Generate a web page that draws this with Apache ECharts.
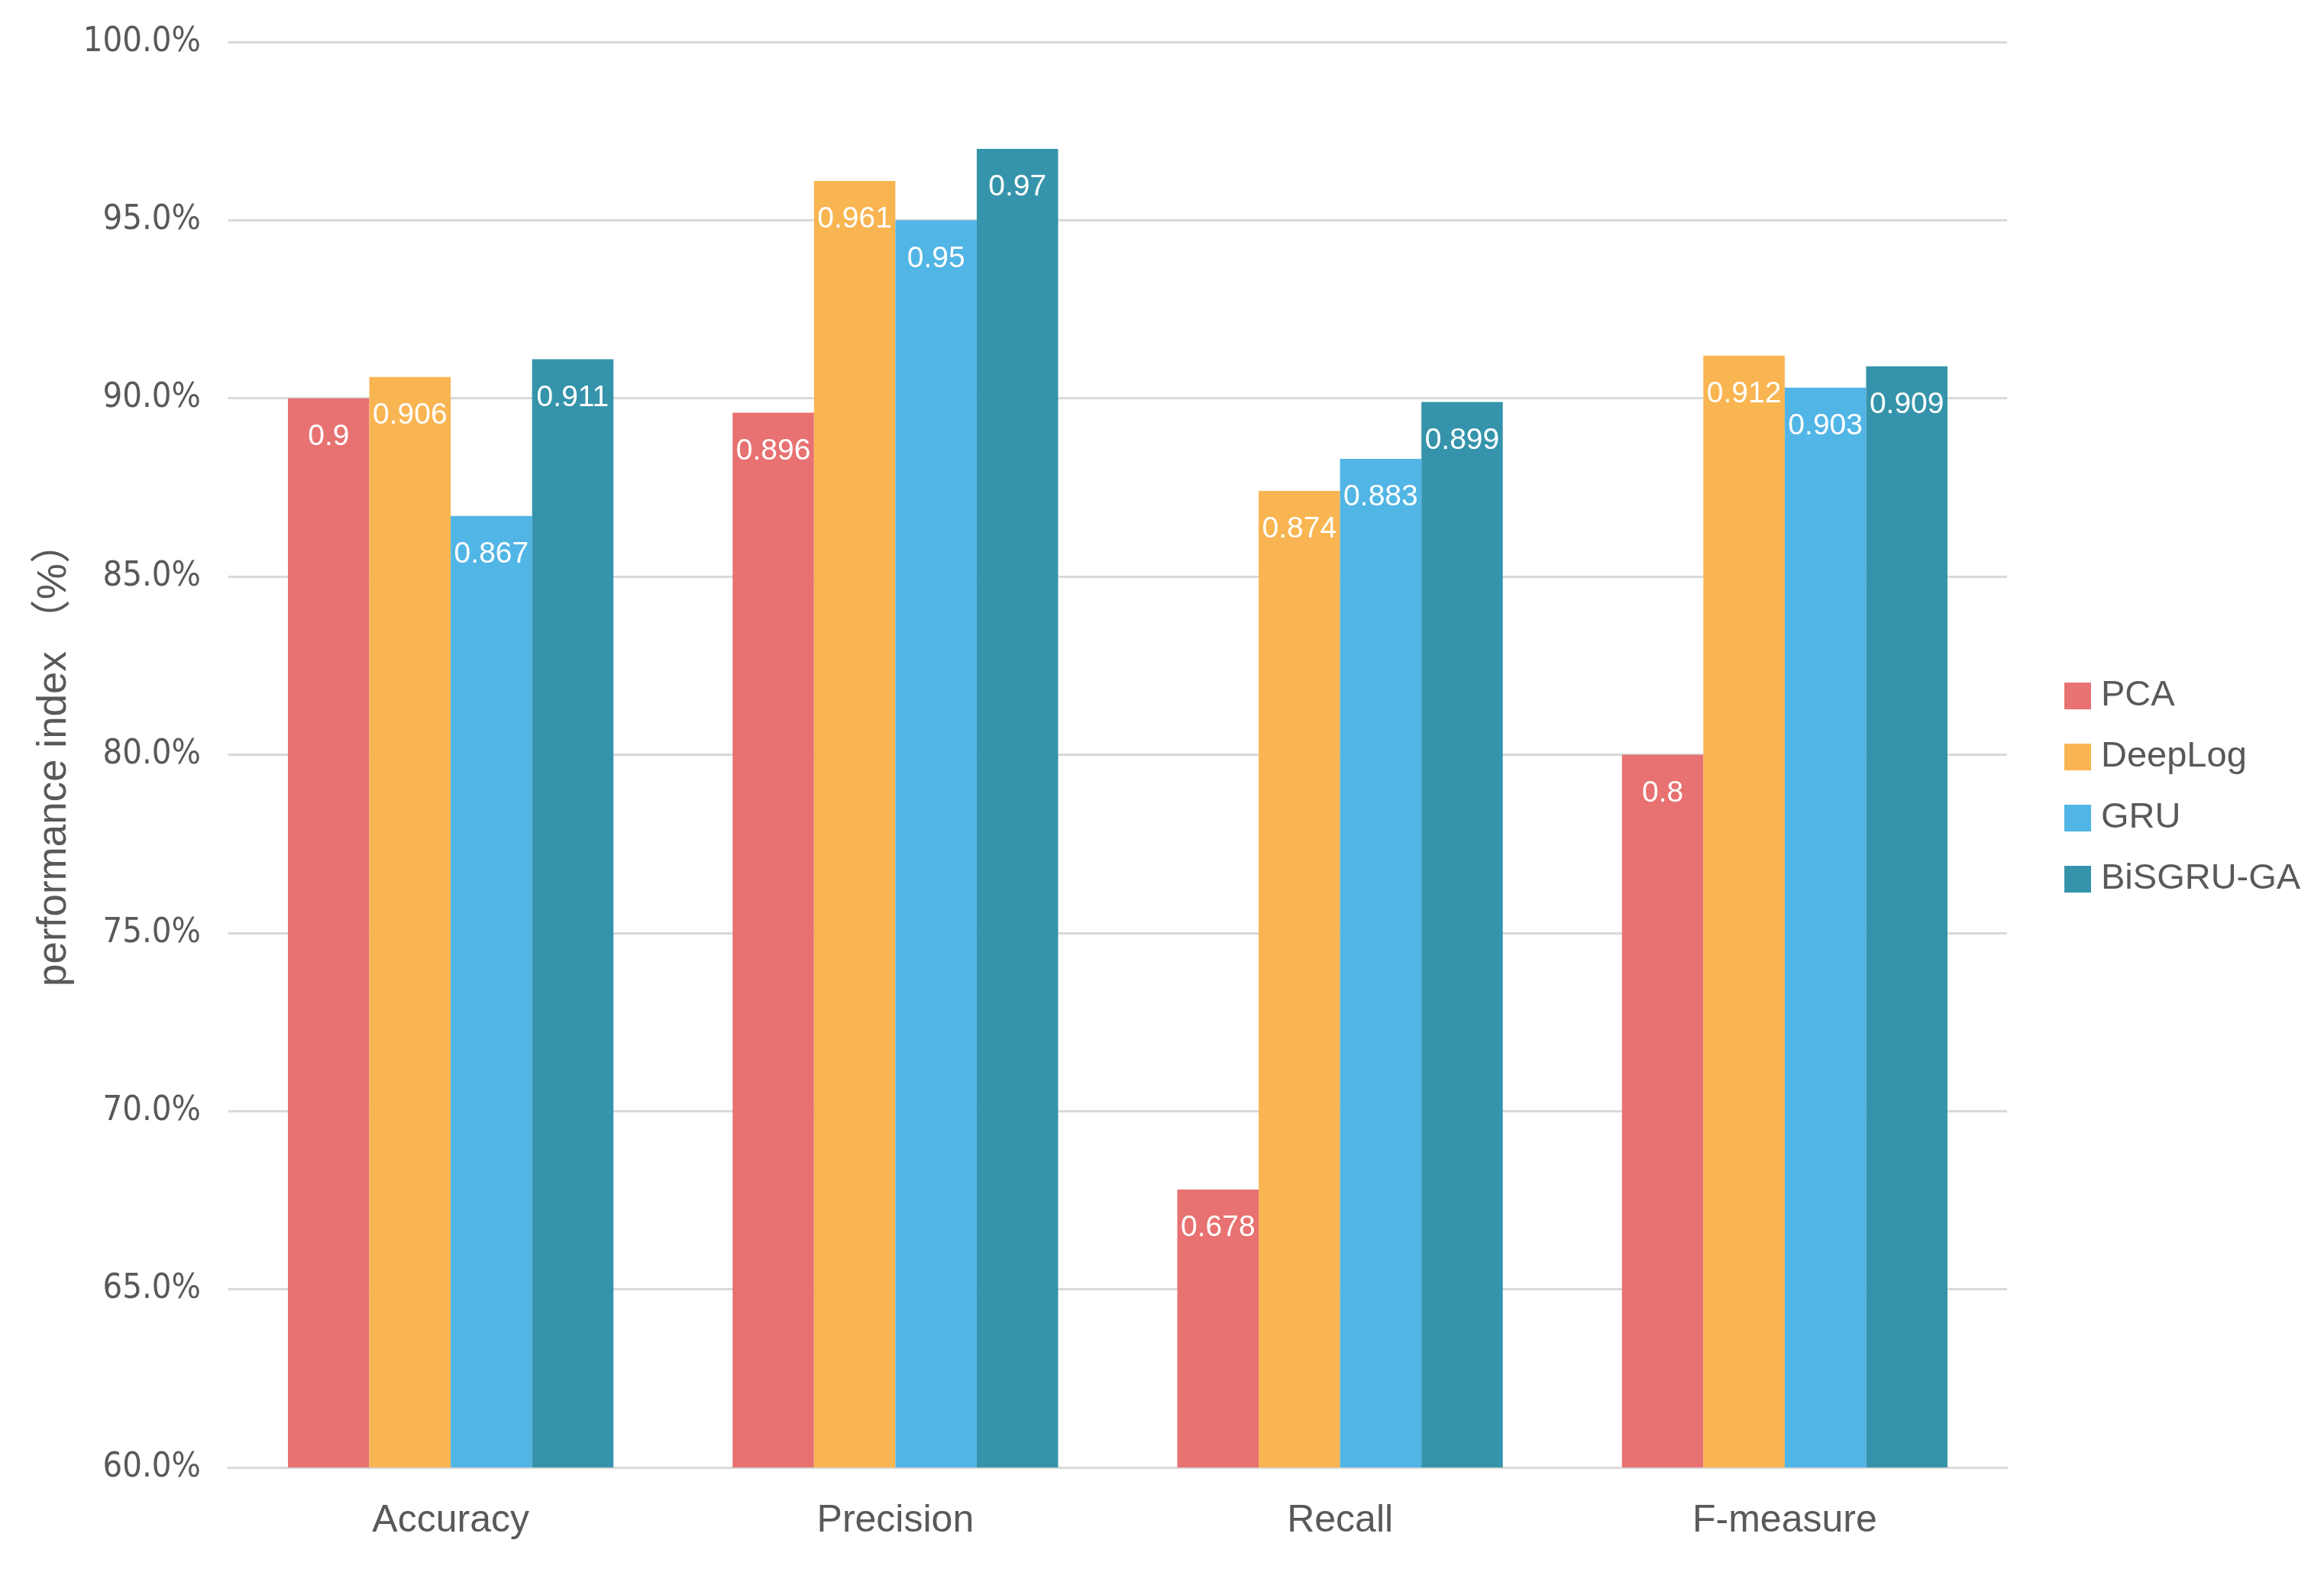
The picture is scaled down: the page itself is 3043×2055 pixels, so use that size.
<!DOCTYPE html>
<html>
<head>
<meta charset="utf-8">
<script src="https://cdn.jsdelivr.net/npm/echarts@6/dist/echarts.min.js"></script>
<style>html,body{margin:0;padding:0;background:#fff;}#c{width:3043px;height:2055px;}</style>
</head>
<body>
<div id="c"></div>
<script>
const categories = ['Accuracy', 'Precision', 'Recall', 'F-measure'];
const seriesNames = ['PCA', 'DeepLog', 'GRU', 'BiSGRU-GA'];
const pcaValues = [0.9, 0.896, 0.678, 0.8];
const deepLogValues = [0.906, 0.961, 0.874, 0.912];
const gruValues = [0.867, 0.95, 0.883, 0.903];
const bisgruValues = [0.911, 0.97, 0.899, 0.909];
const colors = ['#E87171', '#F9B551', '#51B5E5', '#3594AB'];
const allValues = [pcaValues, deepLogValues, gruValues, bisgruValues];

const chart = echarts.init(document.getElementById('c'));
const textColor = '#595959';
chart.setOption({
  backgroundColor: '#ffffff',
  animation: false,
  grid: { left: 299, right: 415, top: 55, bottom: 133, containLabel: false },
  legend: {
    orient: 'vertical',
    left: 2698,
    top: 883,
    itemWidth: 35,
    itemHeight: 35,
    itemGap: 33,
    icon: 'rect',
    textStyle: { fontSize: 47, color: textColor, fontFamily: 'Liberation Sans, Arial, sans-serif', padding: [0, 0, 0, 8] },
    data: seriesNames
  },
  xAxis: {
    type: 'category',
    data: categories,
    axisLine: { show: true, lineStyle: { color: '#D9D9D9', width: 3 } },
    axisTick: { show: false },
    axisLabel: { fontSize: 50, color: textColor, margin: 45, fontFamily: 'Liberation Sans, Arial, sans-serif' }
  },
  yAxis: {
    type: 'value',
    min: 0.6,
    max: 1.0,
    interval: 0.05,
    name: 'performance index （%）',
    nameLocation: 'middle',
    nameGap: 196,
    nameTextStyle: { fontSize: 53, color: textColor, fontFamily: 'Liberation Sans, "Noto Sans CJK SC", sans-serif' },
    axisLine: { show: false },
    axisTick: { show: false },
    splitLine: { lineStyle: { color: '#D9D9D9', width: 3 } },
    axisLabel: {
      fontSize: 45,
      color: textColor,
      margin: 36,
      fontFamily: '"Liberation Sans Narrow", "DejaVu Sans Condensed", Arial, sans-serif',
      formatter: v => (v * 100).toFixed(1) + '%'
    }
  },
  series: seriesNames.map((name, i) => ({
    name: name,
    type: 'bar',
    data: allValues[i],
    barGap: '0%',
    barCategoryGap: '26.8%',
    itemStyle: { color: colors[i] },
    label: {
      show: true,
      position: 'insideTop',
      distance: 31,
      color: '#ffffff',
      fontSize: 39,
      fontFamily: 'Liberation Sans, Arial, sans-serif',
      formatter: p => String(p.value)
    }
  }))
});
</script>
</body>
</html>
